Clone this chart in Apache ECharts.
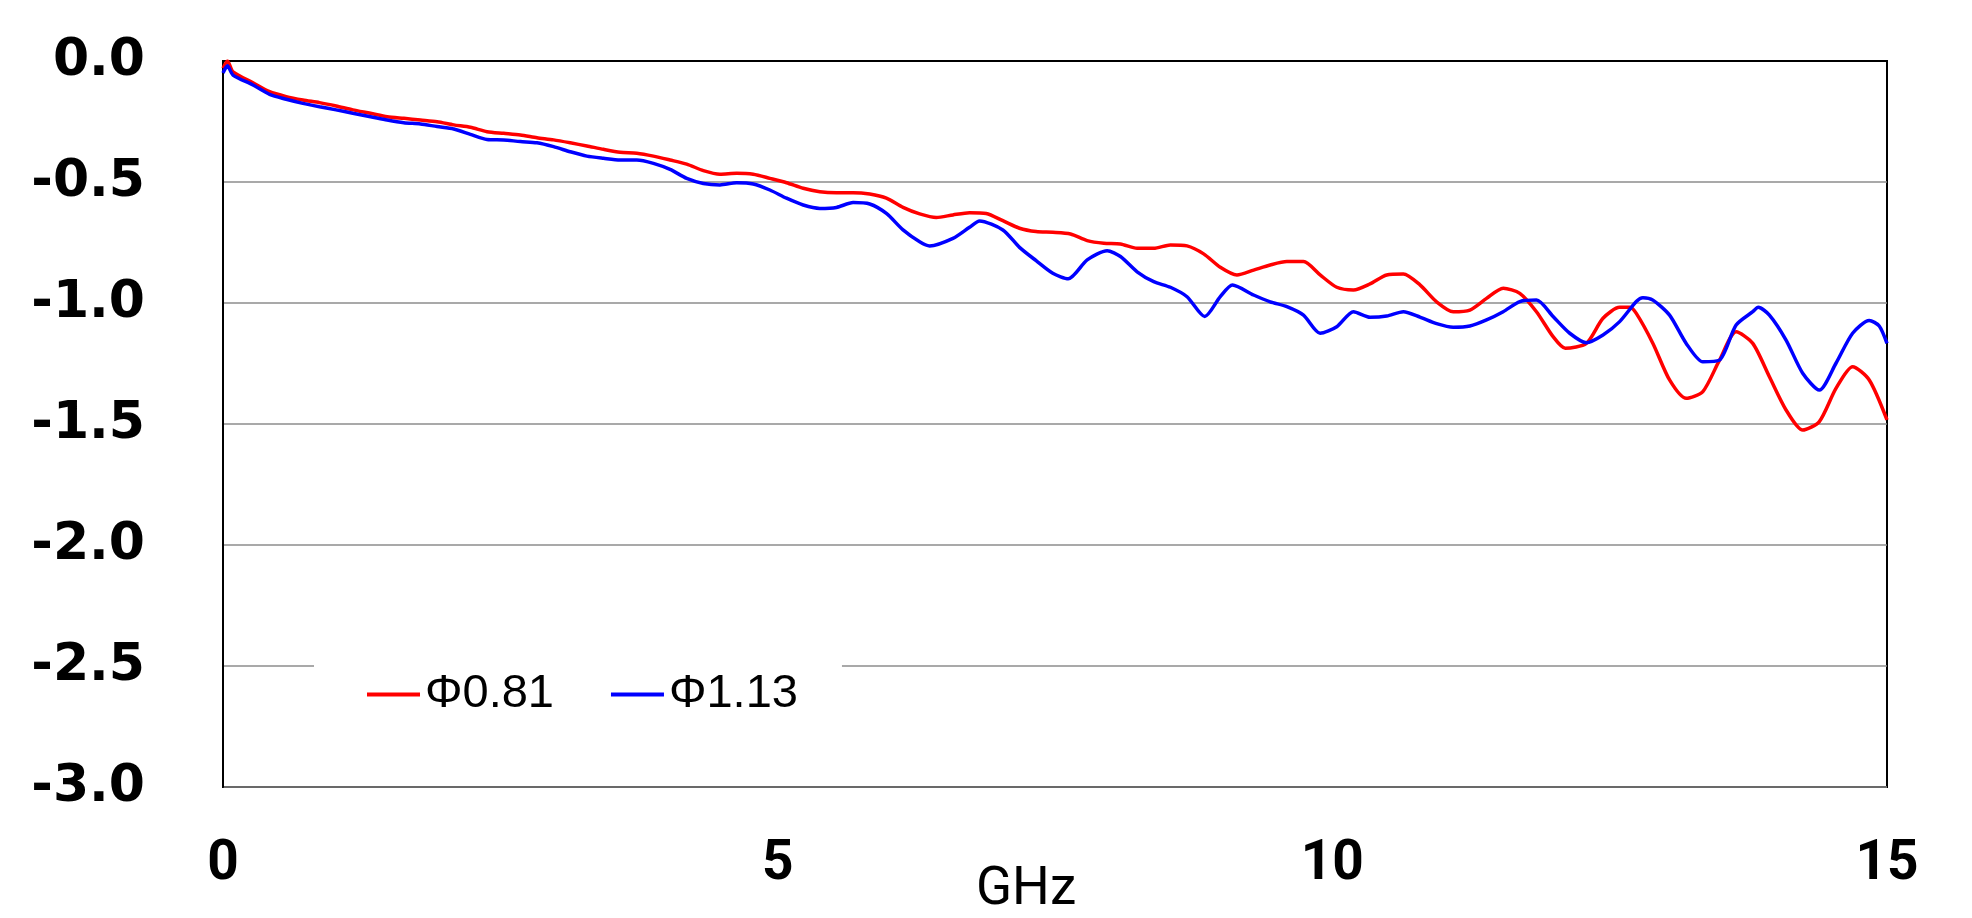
<!DOCTYPE html>
<html>
<head>
<meta charset="utf-8">
<script src="https://cdn.jsdelivr.net/npm/echarts@6/dist/echarts.min.js"></script>
<style>
html,body{margin:0;padding:0;background:#fff;}
#chart{width:1972px;height:918px;}
</style>
</head>
<body>
<div id="chart"></div>
<script>
const seriesNames = ['Φ0.81', 'Φ1.13'];
const xTicks = [0, 5, 10, 15];
const yTicks = [0, -0.5, -1.0, -1.5, -2.0, -2.5, -3.0];

const freqRed = [0, 0.04, 0.09, 0.27, 0.42, 0.57, 0.72, 0.87, 1.02, 1.17, 1.33, 1.48, 1.63, 1.78, 1.93, 2.08, 2.23, 2.38, 2.53, 2.68, 2.83, 2.98, 3.13, 3.28, 3.43, 3.58, 3.73, 3.88, 4.03, 4.18, 4.33, 4.48, 4.63, 4.78, 4.93, 5.08, 5.23, 5.38, 5.53, 5.68, 5.83, 5.98, 6.13, 6.28, 6.43, 6.58, 6.73, 6.88, 7.03, 7.18, 7.33, 7.48, 7.64, 7.79, 7.94, 8.09, 8.24, 8.39, 8.54, 8.69, 8.84, 8.99, 9.14, 9.29, 9.44, 9.59, 9.74, 9.89, 10.04, 10.19, 10.34, 10.49, 10.64, 10.79, 10.94, 11.09, 11.24, 11.39, 11.54, 11.69, 11.84, 11.99, 12.1, 12.29, 12.44, 12.59, 12.68, 12.74, 12.89, 13.04, 13.19, 13.34, 13.49, 13.64, 13.79, 13.94, 14.09, 14.24, 14.39, 14.54, 14.69, 14.84, 15.0];
const lossRed = [-0.03, 0.0, -0.045, -0.09, -0.127, -0.147, -0.161, -0.172, -0.186, -0.202, -0.216, -0.23, -0.237, -0.244, -0.251, -0.264, -0.274, -0.292, -0.299, -0.306, -0.317, -0.326, -0.338, -0.351, -0.365, -0.377, -0.381, -0.393, -0.409, -0.426, -0.453, -0.468, -0.464, -0.468, -0.485, -0.503, -0.526, -0.54, -0.544, -0.544, -0.55, -0.567, -0.605, -0.632, -0.647, -0.636, -0.627, -0.63, -0.66, -0.691, -0.705, -0.708, -0.715, -0.742, -0.753, -0.756, -0.774, -0.774, -0.76, -0.764, -0.797, -0.852, -0.884, -0.864, -0.843, -0.829, -0.829, -0.884, -0.935, -0.946, -0.921, -0.884, -0.88, -0.925, -0.995, -1.036, -1.029, -0.981, -0.939, -0.96, -1.036, -1.139, -1.187, -1.167, -1.063, -1.018, -1.018, -1.043, -1.167, -1.318, -1.394, -1.366, -1.236, -1.119, -1.167, -1.305, -1.442, -1.525, -1.49, -1.353, -1.263, -1.318, -1.483];

const freqBlue = [0, 0.04, 0.09, 0.27, 0.42, 0.57, 0.72, 0.87, 1.02, 1.17, 1.33, 1.48, 1.63, 1.78, 1.93, 2.08, 2.23, 2.38, 2.53, 2.68, 2.83, 2.98, 3.13, 3.28, 3.43, 3.58, 3.73, 3.88, 4.03, 4.18, 4.33, 4.48, 4.63, 4.78, 4.93, 5.08, 5.23, 5.38, 5.53, 5.68, 5.83, 5.98, 6.13, 6.28, 6.37, 6.58, 6.73, 6.82, 7.03, 7.18, 7.33, 7.48, 7.62, 7.79, 7.97, 8.09, 8.24, 8.39, 8.54, 8.69, 8.85, 8.99, 9.1, 9.29, 9.44, 9.59, 9.74, 9.89, 10.04, 10.19, 10.34, 10.49, 10.64, 10.79, 10.94, 11.09, 11.24, 11.39, 11.54, 11.69, 11.84, 11.99, 12.14, 12.29, 12.44, 12.59, 12.74, 12.8, 12.89, 13.04, 13.19, 13.34, 13.49, 13.64, 13.79, 13.84, 13.94, 14.09, 14.24, 14.39, 14.54, 14.69, 14.84, 14.93, 15.0];
const lossBlue = [-0.05, -0.02, -0.058, -0.099, -0.138, -0.158, -0.175, -0.189, -0.202, -0.216, -0.23, -0.244, -0.255, -0.26, -0.271, -0.281, -0.303, -0.324, -0.326, -0.333, -0.338, -0.354, -0.375, -0.393, -0.402, -0.409, -0.409, -0.423, -0.448, -0.485, -0.506, -0.512, -0.503, -0.508, -0.533, -0.567, -0.595, -0.609, -0.605, -0.585, -0.591, -0.63, -0.698, -0.747, -0.764, -0.733, -0.687, -0.661, -0.698, -0.77, -0.825, -0.877, -0.9, -0.822, -0.784, -0.808, -0.871, -0.912, -0.935, -0.974, -1.056, -0.974, -0.926, -0.967, -0.995, -1.015, -1.05, -1.125, -1.098, -1.036, -1.059, -1.054, -1.036, -1.058, -1.085, -1.1, -1.095, -1.07, -1.036, -0.994, -0.988, -1.056, -1.125, -1.164, -1.132, -1.077, -0.994, -0.978, -0.988, -1.05, -1.167, -1.243, -1.236, -1.091, -1.036, -1.018, -1.05, -1.153, -1.29, -1.36, -1.249, -1.125, -1.072, -1.095, -1.167];

const pairs = (xs, ys) => xs.map((x, i) => [x, ys[i]]);

const chart = echarts.init(document.getElementById('chart'), null, {renderer: 'canvas'});
chart.setOption({
  backgroundColor: '#ffffff',
  animation: false,
  grid: {
    left: 223, top: 61, width: 1664, height: 726,
    show: true, borderColor: '#000', borderWidth: 2, backgroundColor: 'transparent'
  },
  xAxis: {
    type: 'value',
    min: xTicks[0], max: xTicks[xTicks.length - 1], interval: 5,
    axisLine: {show: true, lineStyle: {color: '#000', width: 2}},
    axisTick: {show: false},
    splitLine: {show: false},
    axisLabel: {
      color: '#000', fontSize: 55, fontWeight: 'bold',
      fontFamily: 'Roboto', margin: 51
    }
  },
  yAxis: {
    type: 'value',
    min: yTicks[yTicks.length - 1], max: yTicks[0], interval: 0.5,
    axisLine: {show: true, lineStyle: {color: '#000', width: 2}},
    axisTick: {show: false},
    splitLine: {show: true, lineStyle: {color: '#8c8c8c', width: 1.5}},
    axisLabel: {
      color: '#000', fontSize: 52, fontWeight: 'bold',
      fontFamily: 'DejaVu Sans', margin: 78,
      padding: [0, 0, 16, 0],
      formatter: v => v.toFixed(1)
    }
  },
  legend: {
    left: 314, top: 657,
    padding: [14, 44, 14, 53],
    backgroundColor: '#fff',
    icon: 'rect', itemWidth: 53, itemHeight: 4, itemGap: 57,
    textStyle: {color: '#000', fontSize: 47, fontFamily: 'Liberation Sans', padding: [0, 0, 0, 0]},
    data: seriesNames
  },
  graphic: [{
    type: 'text', left: 976, top: 864,
    style: {text: 'GHz', fill: '#000', font: '53px Roboto'}
  }],
  series: [
    {name: seriesNames[0], type: 'line', data: pairs(freqRed, lossRed), showSymbol: false, symbol: 'none',
     color: '#ff0000', lineStyle: {color: '#ff0000', width: 3.5}, smooth: 0.25},
    {name: seriesNames[1], type: 'line', data: pairs(freqBlue, lossBlue), showSymbol: false, symbol: 'none',
     color: '#0000ff', lineStyle: {color: '#0000ff', width: 3.5}, smooth: 0.25}
  ]
});
</script>
</body>
</html>
